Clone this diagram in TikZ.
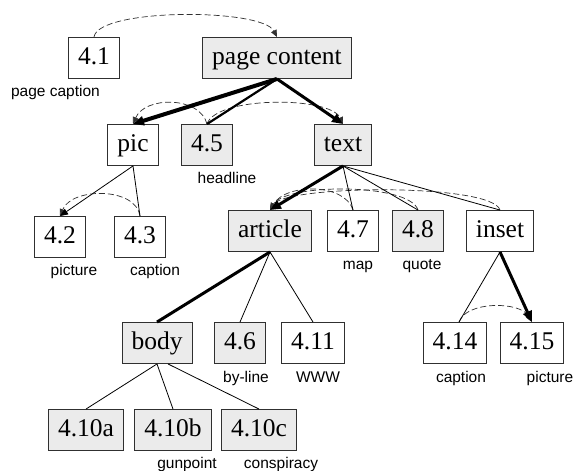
\documentclass[tikz,border=0pt]{standalone}
\usepackage{fontspec}
\setmainfont{Liberation Serif}
\setsansfont{Liberation Sans}
\usetikzlibrary{arrows.meta}
\definecolor{boxgray}{HTML}{EBEBEB}
\definecolor{edge}{HTML}{303030}
\tikzset{
  box/.style={draw=edge, line width=0.9pt, fill=white, font=\fontsize{25.5}{26}\selectfont,
    text height=18pt, text depth=6pt, inner xsep=9.5pt, inner ysep=8.5pt, minimum height=41pt},
  gbox/.style={box, fill=boxgray},
  lbl/.style={font=\sffamily\fontsize{15.5}{16}\selectfont, anchor=base, inner sep=0pt},
  thin/.style={line width=0.8pt},
  mid/.style={line width=2.2pt},
  heavy/.style={line width=3pt},
  heavier/.style={line width=4pt},
  tipB/.style={-{Triangle[length=11pt,width=9pt]}},
  tipS/.style={-{Triangle[length=8pt,width=6.5pt]}},
  dsh/.style={line width=0.7pt, draw=edge, dash pattern=on 6pt off 3pt, -{Triangle[length=7pt,width=6pt]}},
}
\begin{document}
\begin{tikzpicture}[x=1pt,y=-1pt]
\useasboundingbox (0,0) rectangle (576,471);
% nodes
\node[box]  (n41) at (94,58) {4.1};
\node[gbox] (pc)  at (277,58) {page content};
\node[box]  (pic) at (133,145) {pic};
\node[gbox] (n45) at (207,145) {4.5};
\node[gbox] (txt) at (343,145) {text};
\node[box]  (n42) at (60,237) {4.2};
\node[box]  (n43) at (140,237) {4.3};
\node[gbox] (art) at (270,231) {article};
\node[box]  (n47) at (353,231) {4.7};
\node[gbox] (n48) at (418,231) {4.8};
\node[box]  (ins) at (500,231) {inset};
\node[gbox] (bod) at (157,343) {body};
\node[gbox] (n46) at (240,343) {4.6};
\node[box]  (n411) at (313,343) {4.11};
\node[box]  (n414) at (455,343) {4.14};
\node[box]  (n415) at (532,343) {4.15};
\node[gbox] (n410a) at (86,430) {4.10a};
\node[gbox] (n410b) at (173,430) {4.10b};
\node[gbox] (n410c) at (259,430) {4.10c};
% labels
\node[lbl] (l41)  at (55.5,96) {page caption};
\node[lbl] (l45)  at (227,183) {headline};
\node[lbl] (l42)  at (74,275) {picture};
\node[lbl] (l43)  at (155,275) {caption};
\node[lbl] (l47)  at (358,269) {map};
\node[lbl] (l48)  at (422,269) {quote};
\node[lbl] (l46)  at (246,382) {by-line};
\node[lbl] (l411) at (318,382) {WWW};
\node[lbl] (l414) at (461,382) {caption};
\node[lbl] (l415) at (550,382) {picture};
\node[lbl] (l410b) at (187,468) {gunpoint};
\node[lbl] (l410c) at (281,468) {conspiracy};
% dashed arcs
\draw[dsh] (n41.north) .. controls (98,8) and (262,8) .. (pc.north);
\draw[dsh] (n45.north) .. controls (200,96) and (145,96) .. (pic.north);
\draw[dsh] (n45.north) .. controls (216,96) and (330,96) .. (txt.north);
\draw[dsh] (n43.north) .. controls (136,187) and (72,187) .. (n42.north);
\draw[dsh] (n47.north) .. controls (345,183) and (286,183) .. (art.north);
\draw[dsh] (n48.north) .. controls (410,183) and (286,183) .. (art.north);
\draw[dsh] (ins.north) .. controls (492,183) and (286,185) .. (art.north);
\draw[dsh] ([xshift=4pt]n414.north) .. controls (466,301) and (520,301) .. (n415.north);
% tree edges
\draw[heavier,tipB] (pc.south) -- (pic.north);
\draw[mid] (pc.south) -- (n45.north);
\draw[heavy,tipB] (pc.south) -- (txt.north);
\draw[thin,tipS] (pic.south) -- (n42.north);
\draw[thin] (pic.south) -- (n43.north);
\draw[heavy,tipB] (txt.south) -- (art.north);
\draw[thin] (txt.south) -- (n47.north);
\draw[thin] (txt.south) -- (n48.north);
\draw[thin] (txt.south) -- (ins.north);
\draw[heavy] (art.south) -- (bod.north);
\draw[thin] (art.south) -- (n46.north);
\draw[thin] (art.south) -- (n411.north);
\draw[thin] (bod.south) -- (n410a.north);
\draw[thin] (bod.south) -- (n410b.north);
\draw[thin] ([xshift=11pt]bod.south) -- (n410c.north);
\draw[thin] (ins.south) -- ([xshift=4pt]n414.north);
\draw[heavy,tipB] (ins.south) -- (n415.north);
\end{tikzpicture}
\end{document}
